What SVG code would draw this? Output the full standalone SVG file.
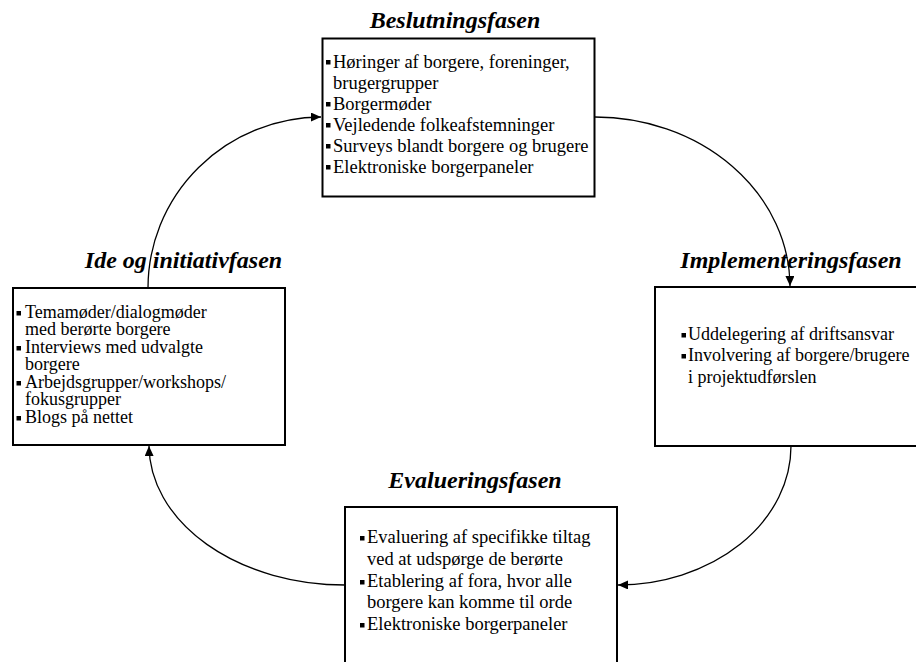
<svg xmlns="http://www.w3.org/2000/svg" width="916" height="662" viewBox="0 0 916 662">
<style>
.box{fill:#fff;stroke:#000;stroke-width:2}
.title{font-family:"Liberation Serif","Times New Roman",serif;font-weight:bold;font-style:italic;font-size:24px;text-anchor:middle;fill:#000}
.t{font-family:"Liberation Serif","Times New Roman",serif;font-size:18.5px;fill:#000}
.tr{font-family:"Liberation Serif","Times New Roman",serif;font-size:18px;fill:#000}
.tl{font-family:"Liberation Serif","Times New Roman",serif;font-size:18px;fill:#000}
.con{fill:none;stroke:#000;stroke-width:1.3}
</style>
<defs>
<marker id="arr" markerUnits="userSpaceOnUse" markerWidth="10" markerHeight="9" refX="10" refY="4.5" orient="auto" viewBox="0 0 10 9">
<path d="M0,0 L10,4.5 L0,9 z" fill="#000"/>
</marker>
<rect id="b" width="4.5" height="4.5" fill="#000"/>
</defs>
<g id="connectors">
<path class="con" d="M148,288 A174,171 0 0 1 321,117" marker-end="url(#arr)"/>
<path class="con" d="M595,117 A195,170 0 0 1 790,286" marker-end="url(#arr)"/>
<path class="con" d="M791,446 A174,139 0 0 1 618,585" marker-end="url(#arr)"/>
<path class="con" d="M345,585 A196,140 0 0 1 149,446" marker-end="url(#arr)"/>
</g>
<g id="beslutning">
<text class="title" x="455" y="28">Beslutningsfasen</text>
<rect class="box" x="322.5" y="38.5" width="272" height="158"/>
<use href="#b" x="326" y="60"/>
<use href="#b" x="326" y="102"/>
<use href="#b" x="326" y="123"/>
<use href="#b" x="326" y="144"/>
<use href="#b" x="326" y="165"/>
<text class="t" x="333" y="68">Høringer af borgere, foreninger,</text>
<text class="t" x="333" y="89">brugergrupper</text>
<text class="t" x="333" y="110">Borgermøder</text>
<text class="t" x="333" y="131">Vejledende folkeafstemninger</text>
<text class="t" x="333" y="152">Surveys blandt borgere og brugere</text>
<text class="t" x="333" y="173">Elektroniske borgerpaneler</text>
</g>
<g id="ide">
<text class="title" x="183.5" y="268">Ide og initiativfasen</text>
<rect class="box" x="13" y="288" width="272" height="157"/>
<use href="#b" x="16.5" y="311"/>
<use href="#b" x="16.5" y="346"/>
<use href="#b" x="16.5" y="381"/>
<use href="#b" x="16.5" y="416"/>
<text class="tl" x="25" y="318">Temamøder/dialogmøder</text>
<text class="tl" x="25" y="335">med berørte borgere</text>
<text class="tl" x="25" y="353">Interviews med udvalgte</text>
<text class="tl" x="25" y="370">borgere</text>
<text class="tl" x="25" y="388">Arbejdsgrupper/workshops/</text>
<text class="tl" x="25" y="405">fokusgrupper</text>
<text class="tl" x="25" y="423">Blogs på nettet</text>
</g>
<g id="implementering">
<text class="title" x="791" y="268">Implementeringsfasen</text>
<rect class="box" x="655" y="287" width="270" height="159"/>
<use href="#b" x="681.5" y="333"/>
<use href="#b" x="681.5" y="354"/>
<text class="tr" x="688" y="340">Uddelegering af driftsansvar</text>
<text class="tr" x="688" y="361">Involvering af borgere/brugere</text>
<text class="tr" x="688" y="383">i projektudførslen</text>
</g>
<g id="evaluering">
<text class="title" x="475" y="488">Evalueringsfasen</text>
<rect class="box" x="345" y="507" width="272" height="170"/>
<use href="#b" x="360" y="536"/>
<use href="#b" x="360" y="580"/>
<use href="#b" x="360" y="623"/>
<text class="t" x="367" y="543">Evaluering af specifikke tiltag</text>
<text class="t" x="367" y="565">ved at udspørge de berørte</text>
<text class="t" x="367" y="587">Etablering af fora, hvor alle</text>
<text class="t" x="367" y="608">borgere kan komme til orde</text>
<text class="t" x="367" y="630">Elektroniske borgerpaneler</text>
</g>
</svg>
